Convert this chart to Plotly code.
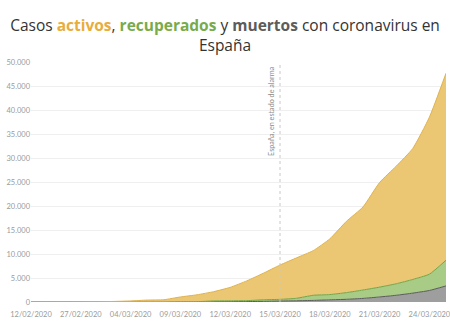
import plotly.graph_objects as go

dates = ["12/02/2020", "20/02/2020", "25/02/2020", "27/02/2020", "29/02/2020", "02/03/2020",
         "04/03/2020", "06/03/2020", "08/03/2020", "09/03/2020", "10/03/2020", "11/03/2020",
         "12/03/2020", "13/03/2020", "14/03/2020", "15/03/2020", "16/03/2020", "17/03/2020",
         "18/03/2020", "19/03/2020", "20/03/2020", "21/03/2020", "22/03/2020", "23/03/2020",
         "24/03/2020", "25/03/2020"]
total = [2, 2, 4, 15, 45, 114, 222, 400, 470, 1050, 1500, 2150, 3050, 4400, 6000, 7700,
         9200, 10700, 13150, 16800, 19800, 24900, 28300, 32000, 38500, 47650]
muertos = [0, 0, 0, 0, 0, 0, 1, 3, 10, 20, 30, 40, 60, 90, 130, 200,
           250, 330, 450, 560, 750, 1050, 1400, 1850, 2400, 3350]
recuperados = [0, 0, 2, 2, 2, 2, 2, 2, 2, 30, 32, 180, 190, 190, 330, 350,
               530, 1070, 1100, 1390, 1750, 2050, 2400, 2850, 3400, 5350]
activos = [t - m - r for t, m, r in zip(total, muertos, recuperados)]

tick_labels = ["12/02/2020", "27/02/2020", "04/03/2020", "09/03/2020", "12/03/2020",
               "15/03/2020", "18/03/2020", "21/03/2020", "24/03/2020"]
alarma_fecha = "15/03/2020"
alarma_texto = "España, en estado de alarma"

fig = go.Figure()
fig.add_trace(go.Scatter(x=dates, y=muertos, stackgroup="s", mode="lines",
                         line=dict(color="#5a5a5a", width=1, shape="spline", smoothing=0.5),
                         fillcolor="#9e9e9e", name="muertos", hoverinfo="skip"))
fig.add_trace(go.Scatter(x=dates, y=recuperados, stackgroup="s", mode="lines",
                         line=dict(color="#72a548", width=1, shape="spline", smoothing=0.5),
                         fillcolor="#a8cb85", name="recuperados", hoverinfo="skip"))
fig.add_trace(go.Scatter(x=dates, y=activos, stackgroup="s", mode="lines",
                         line=dict(color="#dfb24f", width=1, shape="spline", smoothing=0.5),
                         fillcolor="#ebc774", name="activos", hoverinfo="skip"))

fig.add_shape(type="line", xref="x", yref="paper", x0=alarma_fecha, x1=alarma_fecha,
              y0=0, y1=1, line=dict(color="#c8c8c8", width=1, dash="dot"), layer="above")
fig.add_annotation(x=alarma_fecha, xref="x", y=0.99, yref="paper", yanchor="top",
                   xanchor="right", xshift=-2, text=alarma_texto, textangle=-90,
                   showarrow=False, font=dict(family="Lato", size=7.2, color="#8a8a8a"))

title = ('Casos <b><span style="color:#e8ad3c">activos</span></b>, '
         '<b><span style="color:#78ab4a">recuperados</span></b> y '
         '<b><span style="color:#5c5c5c">muertos</span></b> con coronavirus en<br>España')
fig.update_layout(
    width=450, height=324,
    margin=dict(l=31, r=4, t=62, b=22, autoexpand=False),
    paper_bgcolor="white", plot_bgcolor="white",
    showlegend=False,
    separators=",.",
    title=dict(text=title, x=0.5, xanchor="center", yref="container", y=0.905,
               yanchor="middle",
               font=dict(family="Open Sans", size=15.5, color="#333333")),
    xaxis=dict(type="category", range=[0, len(dates) - 1], tickmode="array",
               tickvals=tick_labels, ticktext=tick_labels, showgrid=False,
               showline=False, zeroline=False, ticks="", ticklabelstandoff=6,
               automargin=False,
               tickfont=dict(family="Lato", size=7.5, color="#9a9a9a")),
    yaxis=dict(range=[0, 50000], dtick=5000, tickformat=",d", showgrid=True,
               gridcolor="#efefef", gridwidth=1, zeroline=False, showline=False, ticks="",
               automargin=False,
               tickfont=dict(family="Lato", size=7.5, color="#9a9a9a")),
)

fig.write_html("out.html")
